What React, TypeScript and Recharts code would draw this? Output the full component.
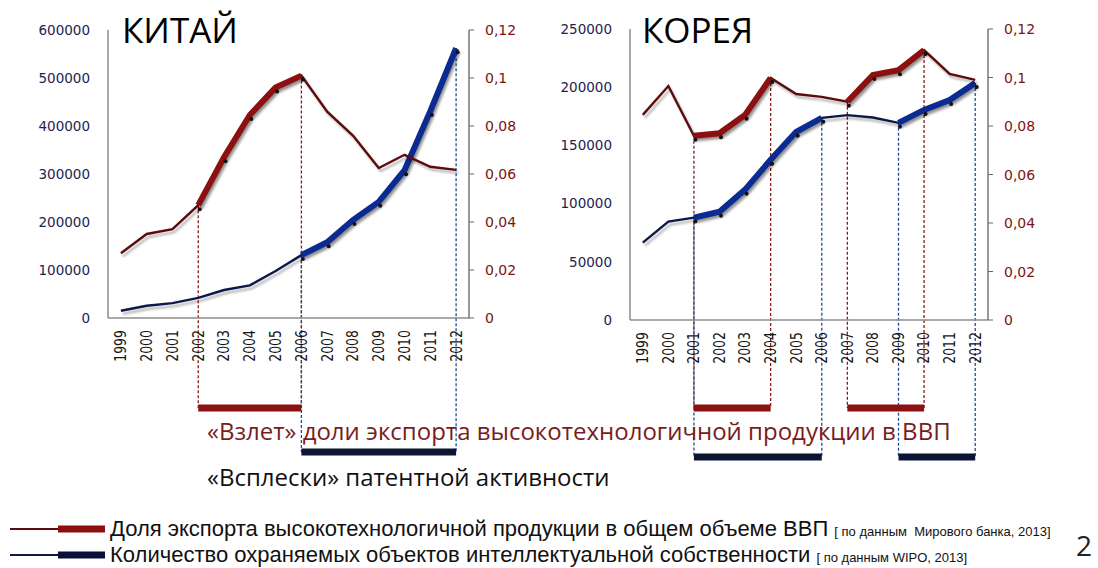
import { ComposedChart, Line, XAxis, YAxis, ReferenceLine } from 'recharts'

type Span = [string, string]

const years = ['1999', '2000', '2001', '2002', '2003', '2004', '2005', '2006', '2007', '2008', '2009', '2010', '2011', '2012']

// доля экспорта высокотехнологичной продукции в ВВП
const cnShare = [0.027, 0.035, 0.037, 0.047, 0.067, 0.0846, 0.096, 0.101, 0.086, 0.076, 0.0625, 0.068, 0.063, 0.0617]
const krShare = [0.0846, 0.0965, 0.076, 0.077, 0.0846, 0.0998, 0.0932, 0.092, 0.09, 0.101, 0.103, 0.1113, 0.1015, 0.099]

// количество охраняемых объектов ИС
const cnPatents = [15000, 25600, 31000, 42000, 58300, 68000, 98000, 131000, 158000, 204000, 242000, 308000, 431000, 562000]
const krPatents = [66500, 84500, 88000, 93000, 112000, 137600, 161700, 173700, 176000, 174000, 169400, 180500, 189000, 203700]

// «взлеты» и «всплески»
const cnShareSpans: Span[] = [['2002', '2006']]
const cnPatentSpans: Span[] = [['2006', '2012']]
const krShareSpans: Span[] = [['2001', '2004'], ['2007', '2010']]
const krPatentSpans: Span[] = [['2001', '2006'], ['2009', '2012']]

const shareTicks = [0, 0.02, 0.04, 0.06, 0.08, 0.1, 0.12]
const cnPatentTicks = [0, 100000, 200000, 300000, 400000, 500000, 600000]
const krPatentTicks = [0, 50000, 100000, 150000, 200000, 250000]

const RED = '#5e0b0b'
const RED_HI = '#8c1010'
const BLUE = '#0d1848'
const BLUE_HI = '#0b2a92'

const inSpans = (y: string, spans: Span[]) => spans.some(([a, b]) => y >= a && y <= b)

function buildRows(share: number[], patents: number[], shareSpans: Span[], patentSpans: Span[]) {
  return years.map((year, i) => ({
    year,
    share: share[i],
    patents: patents[i],
    shareHi: inSpans(year, shareSpans) ? share[i] : null,
    patentsHi: inSpans(year, patentSpans) ? patents[i] : null,
  }))
}

const LeftTick = ({ x, y, payload }: any) => (
  <text x={x} y={y} dy="0.36em" textAnchor="end" fill="#1c2350" fontSize={13.5} fontFamily="DejaVu Sans">
    {payload.value}
  </text>
)

const RightTick = ({ x, y, payload }: any) => (
  <text x={x} y={y} dy="0.36em" textAnchor="start" fill="#7a1414" fontSize={14} fontFamily="DejaVu Sans">
    {String(payload.value).replace('.', ',')}
  </text>
)

const YearTick = ({ x, y, payload }: any) => (
  <g transform={`translate(${x},${y}) rotate(-90) scale(1,1.2)`}>
    <text x={0} y={0} dy="0.36em" textAnchor="end" fill="#151515" fontSize={12.5} fontFamily="DejaVu Sans">
      {payload.value}
    </text>
  </g>
)

const ShadowDot = (p: any) =>
  p.cy == null || p.value == null ? <g key={p.index} /> : <circle key={p.index} cx={p.cx + 1.5} cy={p.cy + 4} r={2} fill="#111" />

interface PanelProps {
  share: number[]
  patents: number[]
  shareSpans: Span[]
  patentSpans: Span[]
  patentTicks: number[]
  width: number
  margin: { top: number; right: number; bottom: number; left: number }
  leftWidth: number
  redLevel: number
  blueLevel: number
}

function CountryChart({ share, patents, shareSpans, patentSpans, patentTicks, width, margin, leftWidth, redLevel, blueLevel }: PanelProps) {
  const rows = buildRows(share, patents, shareSpans, patentSpans)
  const shareEnds = Array.from(new Set(shareSpans.flat()))
  const patentEnds = Array.from(new Set(patentSpans.flat()))
  const idx = (y: string) => years.indexOf(y)

  return (
    <ComposedChart width={width} height={470} data={rows} margin={margin}>
      <XAxis dataKey="year" scale="band" interval={0} height={50} tickSize={0} tickMargin={12} tick={<YearTick />} axisLine={{ stroke: '#8c8c8c', strokeWidth: 1.5 }} tickLine={false} />
      <YAxis yAxisId="left" width={leftWidth} domain={[0, patentTicks[patentTicks.length - 1]]} ticks={patentTicks} tick={<LeftTick />} tickSize={6} tickMargin={12} tickLine={false} axisLine={{ stroke: '#8c8c8c', strokeWidth: 1.5 }} />
      <YAxis yAxisId="right" orientation="right" width={60} domain={[0, 0.12]} ticks={shareTicks} tick={<RightTick />} tickSize={5} tickMargin={11} tickLine={{ stroke: '#666' }} axisLine={{ stroke: '#555', strokeWidth: 1.2 }} />

      {shareEnds.map(y => (
        <ReferenceLine key={'rd' + y} yAxisId="right" ifOverflow="visible" segment={[{ x: y, y: share[idx(y)] }, { x: y, y: redLevel }]} stroke="#8c1a1a" strokeWidth={1.3} strokeDasharray="3 2" />
      ))}
      {patentEnds.map(y => (
        <ReferenceLine key={'bd' + y} yAxisId="left" ifOverflow="visible" segment={[{ x: y, y: patents[idx(y)] }, { x: y, y: blueLevel }]} stroke="#1f4c99" strokeWidth={1.3} strokeDasharray="3 2" />
      ))}
      {shareSpans.map(([a, b]) => (
        <ReferenceLine key={'rb' + a} yAxisId="right" ifOverflow="visible" segment={[{ x: a, y: redLevel }, { x: b, y: redLevel }]} stroke="#8c1212" strokeWidth={7} />
      ))}
      {patentSpans.map(([a, b]) => (
        <ReferenceLine key={'bb' + a} yAxisId="left" ifOverflow="visible" segment={[{ x: a, y: blueLevel }, { x: b, y: blueLevel }]} stroke="#0d1535" strokeWidth={7} />
      ))}

      <Line className="shadow-line" yAxisId="left" type="linear" dataKey="patents" stroke={BLUE} strokeWidth={2.4} dot={false} isAnimationActive={false} />
      <Line className="shadow-line" yAxisId="left" type="linear" dataKey="patentsHi" stroke={BLUE_HI} strokeWidth={6} dot={ShadowDot} connectNulls={false} isAnimationActive={false} />
      <Line className="shadow-line" yAxisId="right" type="linear" dataKey="share" stroke={RED} strokeWidth={2.4} dot={false} isAnimationActive={false} />
      <Line className="shadow-line" yAxisId="right" type="linear" dataKey="shareHi" stroke={RED_HI} strokeWidth={6} dot={ShadowDot} connectNulls={false} isAnimationActive={false} />
    </ComposedChart>
  )
}

const LegendIcon = ({ thin, thick }: { thin: string; thick: string }) => (
  <svg width={100} height={10} style={{ position: 'absolute', left: 8, top: 7 }}>
    <line x1={2} y1={5} x2={52} y2={5} stroke={thin} strokeWidth={2} />
    <line x1={50} y1={5} x2={97} y2={5} stroke={thick} strokeWidth={7} />
  </svg>
)

export default function App() {
  const title = { position: 'absolute' as const, top: 12, fontSize: 35, lineHeight: '35px', color: '#000' }
  const note = { position: 'absolute' as const, left: 207, fontSize: 24, lineHeight: '30px', whiteSpace: 'nowrap' as const }
  const legendText = {
    position: 'absolute' as const, left: 110, top: 0, fontSize: 22, lineHeight: '24px', color: '#111',
    whiteSpace: 'nowrap' as const, fontFamily: '"Liberation Sans", Arial, sans-serif',
  }
  return (
    <div style={{ position: 'absolute', left: 0, top: 0, width: 1098, height: 568, background: '#fff', overflow: 'hidden', fontFamily: '"Open Sans", sans-serif' }}>
      <style>{`.shadow-line { filter: drop-shadow(2px 3px 1px rgba(0,0,0,0.28)); }`}</style>

      <div style={{ position: 'absolute', left: 0, top: 0 }}>
        <CountryChart share={cnShare} patents={cnPatents} shareSpans={cnShareSpans} patentSpans={cnPatentSpans} patentTicks={cnPatentTicks}
          width={545} margin={{ top: 30, right: 16, bottom: 102, left: 0 }} leftWidth={108} redLevel={-0.0375} blueLevel={-279000} />
      </div>
      <div style={{ position: 'absolute', left: 540, top: 0 }}>
        <CountryChart share={krShare} patents={krPatents} shareSpans={krShareSpans} patentSpans={krPatentSpans} patentTicks={krPatentTicks}
          width={530} margin={{ top: 29, right: 22, bottom: 100, left: 0 }} leftWidth={90} redLevel={-0.0363} blueLevel={-117700} />
      </div>

      <div style={{ ...title, left: 122 }}>КИТАЙ</div>
      <div style={{ ...title, left: 642 }}>КОРЕЯ</div>

      <div style={{ ...note, top: 416, color: '#7b1c1c' }}>«Взлет» доли экспорта высокотехнологичной продукции в ВВП</div>
      <div style={{ ...note, top: 462, color: '#111' }}>«Всплески» патентной активности</div>

      <div style={{ position: 'absolute', left: 0, top: 517, width: 1060, height: 24 }}>
        <LegendIcon thin={RED} thick={RED_HI} />
        <div style={legendText}>
          Доля экспорта высокотехнологичной продукции в общем объеме ВВП <span style={{ fontSize: 13 }}>[ по данным&nbsp; Мирового банка, 2013]</span>
        </div>
      </div>
      <div style={{ position: 'absolute', left: 0, top: 543, width: 1060, height: 24 }}>
        <LegendIcon thin={BLUE} thick="#0a0f3a" />
        <div style={legendText}>
          Количество охраняемых объектов интеллектуальной собственности <span style={{ fontSize: 13 }}>[ по данным WIPO, 2013]</span>
        </div>
      </div>
      <div style={{ position: 'absolute', left: 1076, top: 530, fontSize: 28, lineHeight: '30px', color: '#222' }}>2</div>
    </div>
  )
}
